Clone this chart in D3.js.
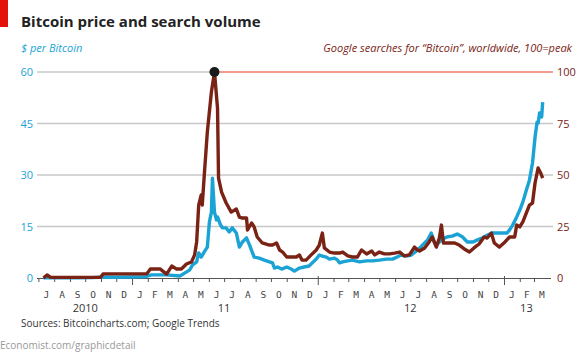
<!DOCTYPE html>
<html>
<head>
<meta charset="utf-8">
<script src="https://cdn.jsdelivr.net/npm/d3@7"></script>
<style>
  html, body { margin: 0; padding: 0; background: #fff; }
  svg { display: block; }
</style>
</head>
<body>
<svg id="chart" width="583" height="357"></svg>
<script>
// ---- Data ----
const priceDates = ["2010-07-11","2010-08-15","2010-09-15","2010-10-15","2010-11-07","2010-12-01","2011-01-01","2011-01-28","2011-02-08","2011-02-25","2011-03-10","2011-04-05","2011-04-15","2011-04-24","2011-04-30","2011-05-08","2011-05-12","2011-05-17","2011-05-23","2011-05-29","2011-06-02","2011-06-06","2011-06-08","2011-06-12","2011-06-16","2011-06-18","2011-06-24","2011-06-28","2011-07-05","2011-07-11","2011-07-17","2011-07-25","2011-07-31","2011-08-06","2011-08-14","2011-08-20","2011-08-29","2011-09-08","2011-09-18","2011-09-28","2011-10-04","2011-10-08","2011-10-14","2011-10-22","2011-11-01","2011-11-10","2011-11-16","2011-11-26","2011-12-05","2011-12-15","2011-12-21","2011-12-29","2012-01-04","2012-01-10","2012-01-18","2012-01-24","2012-02-03","2012-02-09","2012-02-13","2012-02-19","2012-02-29","2012-03-09","2012-03-23","2012-04-06","2012-04-18","2012-05-01","2012-05-15","2012-05-27","2012-06-05","2012-06-13","2012-06-23","2012-07-03","2012-07-13","2012-07-19","2012-07-29","2012-08-04","2012-08-11","2012-08-17","2012-08-21","2012-08-27","2012-09-02","2012-09-12","2012-09-21","2012-10-01","2012-10-11","2012-10-21","2012-11-01","2012-11-10","2012-11-20","2012-11-29","2012-12-09","2012-12-23","2013-01-07","2013-01-12","2013-01-18","2013-01-26","2013-02-01","2013-02-07","2013-02-14","2013-02-20","2013-02-26","2013-03-03","2013-03-07","2013-03-09","2013-03-12","2013-03-16","2013-03-18"];
const priceValues = [0.06,0.07,0.06,0.1,0.3,0.22,0.3,0.4,0.9,0.9,0.9,0.6,1.5,2.3,3.8,4.7,7.3,6.1,7.6,9,16.3,19.2,29.1,19.2,16.9,17.8,15.4,14.6,14.6,13.4,14.6,13.1,9,10.5,11.7,9.6,6.1,5.8,5.2,4.7,4.4,2.9,3.2,2.6,3.2,2.6,2,2.9,3.2,3.5,4.4,5.5,6.7,6.4,6.1,5.5,5.8,5.2,4.4,4.7,5,5.2,4.7,5,5,5.2,5.5,5.5,6.1,6.7,6.4,6.7,7.9,8.7,10.2,11.1,13.1,10.5,9.6,10.5,11.4,12,12.2,12.8,12,10.5,10.5,11.1,11.7,12.5,13.1,13.1,13.1,14,15.4,17.8,19.8,22.1,25.6,28.5,33.5,41,45.4,45.1,48.1,46.9,51.2];

const searchDates = ["2010-07-11","2010-07-18","2010-07-25","2010-10-31","2010-11-05","2011-01-30","2011-02-06","2011-02-25","2011-03-10","2011-03-20","2011-03-29","2011-04-08","2011-04-18","2011-04-28","2011-05-04","2011-05-08","2011-05-12","2011-05-17","2011-05-19","2011-05-23","2011-05-29","2011-06-06","2011-06-12","2011-06-18","2011-06-20","2011-06-26","2011-07-05","2011-07-15","2011-07-25","2011-07-31","2011-08-06","2011-08-14","2011-08-16","2011-08-24","2011-08-29","2011-09-04","2011-09-14","2011-09-28","2011-10-04","2011-10-12","2011-10-18","2011-10-24","2011-11-01","2011-11-10","2011-11-20","2011-11-26","2011-12-01","2011-12-09","2011-12-19","2011-12-29","2012-01-04","2012-01-10","2012-01-14","2012-01-24","2012-02-03","2012-02-13","2012-02-19","2012-02-29","2012-03-09","2012-03-19","2012-03-27","2012-04-06","2012-04-16","2012-04-22","2012-05-01","2012-05-11","2012-05-21","2012-05-31","2012-06-10","2012-06-19","2012-06-29","2012-07-09","2012-07-15","2012-07-19","2012-07-29","2012-08-07","2012-08-13","2012-08-21","2012-08-27","2012-08-31","2012-09-04","2012-09-16","2012-09-26","2012-10-05","2012-10-15","2012-10-25","2012-11-03","2012-11-13","2012-11-23","2012-11-29","2012-12-07","2012-12-13","2012-12-23","2013-01-03","2013-01-12","2013-01-22","2013-01-26","2013-02-01","2013-02-07","2013-02-14","2013-02-20","2013-02-26","2013-03-03","2013-03-09","2013-03-14","2013-03-18"];
const searchValues = [0,1.5,0.3,0.3,2,2,4.4,4.4,1.9,5.8,4.4,4.4,6.8,7.8,11.2,17.5,35.4,40.3,35.4,50,70.9,90.3,100,82.5,48.5,41.7,36.4,32,33.5,29.6,29.1,29.1,23.3,26.7,24.8,19.9,17,16,16,17,13.6,12.6,10.2,10.2,10.2,11.2,8.7,8.7,11.2,13.6,16,21.8,14.6,12.6,12.1,12.1,12.6,10.7,10.2,10.2,13.6,11.7,13.1,11.2,12.6,11.7,11.7,12.1,12.6,10.7,11.2,15,13.6,13.1,14.6,17.5,19.9,15,19.4,25.7,17,17,17,16,14.1,12.6,14.6,16.5,19.9,19.4,21.8,17,15,17.5,19.9,19.9,25.7,24.8,27.2,31.6,35.4,36.4,46.1,53.4,51,48.5];

const leftTicks = [0, 15, 30, 45, 60];
const rightTicks = [0, 25, 50, 75, 100];
const monthLetters = ["J","F","M","A","M","J","J","A","S","O","N","D"];
const yearLabels = ["2010", "11", "12", "13"];
const yearLabelCentres = ["2010-10-01", "2011-07-01", "2012-07-01", "2013-02-14"];
const peakDate = "2011-06-12";

const title = "Bitcoin price and search volume";
const leftTitle = "$ per Bitcoin";
const rightTitle = "Google searches for \u201cBitcoin\u201d, worldwide, 100=peak";
const source = "Sources: Bitcoincharts.com; Google Trends";
const footer = "Economist.com/graphicdetail";

// ---- Drawing ----
const parse = d3.timeParse("%Y-%m-%d");
const svg = d3.select("#chart");
const BLUE = "#1ba3d6", BROWN = "#7a2315", SALMON = "#ef7a66";
const FONT = "'Open Sans', sans-serif";

const x = d3.scaleTime().domain([new Date(2010, 6, 1), new Date(2013, 3, 1)]).range([38.4, 549.8]);
const yL = d3.scaleLinear().domain([0, 60]).range([278, 72]);
const yR = d3.scaleLinear().domain([0, 100]).range([278, 72]);

// red corner mark
svg.append("rect").attr("x", 0).attr("y", 0).attr("width", 8).attr("height", 27).attr("fill", "#e3120b");

svg.append("text").attr("x", 21).attr("y", 27).text(title)
  .attr("font-family", FONT).attr("font-weight", 700).attr("font-size", 15).attr("fill", "#222");

svg.append("text").attr("x", 21).attr("y", 52).text(leftTitle)
  .attr("font-family", FONT).attr("font-style", "italic").attr("font-size", 11).attr("fill", BLUE);
svg.append("text").attr("x", 572).attr("y", 52).attr("text-anchor", "end").text(rightTitle)
  .attr("font-family", FONT).attr("font-style", "italic").attr("font-size", 11).attr("fill", BROWN);

// gridlines
const peakX = x(parse(peakDate));
leftTicks.slice(1).forEach(t => {
  const yy = yL(t);
  if (t === 60) {
    svg.append("line").attr("x1", 37).attr("x2", peakX).attr("y1", yy).attr("y2", yy)
      .attr("stroke", "#c8c8c8").attr("stroke-width", 1.3);
    svg.append("line").attr("x1", peakX).attr("x2", 553).attr("y1", yy).attr("y2", yy)
      .attr("stroke", SALMON).attr("stroke-width", 1.3);
  } else {
    svg.append("line").attr("x1", 37).attr("x2", 553).attr("y1", yy).attr("y2", yy)
      .attr("stroke", "#c8c8c8").attr("stroke-width", 1.3);
  }
});

// left axis labels
svg.append("g").selectAll("text").data(leftTicks).join("text")
  .attr("x", 33).attr("y", d => yL(d) + 4).attr("text-anchor", "end")
  .attr("font-family", FONT).attr("font-size", 11).attr("fill", BLUE).text(d => d);
// right axis labels
svg.append("g").selectAll("text").data(rightTicks).join("text")
  .attr("x", 557).attr("y", d => yR(d) + 4).attr("text-anchor", "start")
  .attr("font-family", FONT).attr("font-size", 11).attr("fill", BROWN).text(d => d);

// x axis
const months = d3.timeMonth.range(new Date(2010, 6, 1), new Date(2013, 3, 1));
const xAxis = d3.axisBottom(x).tickValues(months).tickFormat("").tickSizeOuter(0).tickSize(4);
const gx = svg.append("g").attr("transform", "translate(0,278)").call(xAxis);
gx.select(".domain").attr("d", "M37,0.5H551").attr("stroke", "#555").attr("stroke-width", 1);
gx.selectAll(".tick line").attr("stroke", "#555")
  .attr("y1", d => d.getMonth() === 0 ? -2 : 0)
  .attr("y2", d => d.getMonth() === 0 ? 7 : 4);

// month letters
svg.append("g").selectAll("text").data(months).join("text")
  .attr("x", d => (x(d) + x(d3.timeMonth.offset(d, 1))) / 2)
  .attr("y", 298).attr("text-anchor", "middle")
  .attr("font-family", "'DejaVu Sans Mono', monospace").attr("font-size", 9.5).attr("fill", "#444")
  .text(d => monthLetters[d.getMonth()]);

// year labels
svg.append("g").selectAll("text").data(yearLabels).join("text")
  .attr("x", (d, i) => x(parse(yearLabelCentres[i])))
  .attr("y", 312).attr("text-anchor", "middle")
  .attr("font-family", FONT).attr("font-size", 11).attr("fill", "#333").text(d => d);

// lines
const priceData = priceDates.map((d, i) => ({ date: parse(d), v: priceValues[i] }));
const searchData = searchDates.map((d, i) => ({ date: parse(d), v: searchValues[i] }));

svg.append("path").datum(priceData)
  .attr("d", d3.line().x(d => x(d.date)).y(d => yL(d.v)))
  .attr("fill", "none").attr("stroke", BLUE).attr("stroke-width", 3.4).attr("stroke-linejoin", "round");
svg.append("path").datum(searchData)
  .attr("d", d3.line().x(d => x(d.date)).y(d => yR(d.v)))
  .attr("fill", "none").attr("stroke", BROWN).attr("stroke-width", 3.4).attr("stroke-linejoin", "round");

// peak dot
svg.append("circle").attr("cx", peakX).attr("cy", yR(100)).attr("r", 5).attr("fill", "#1a1a1a");

// sources
svg.append("text").attr("x", 21).attr("y", 327).text(source)
  .attr("font-family", FONT).attr("font-size", 10).attr("fill", "#333");
svg.append("text").attr("x", 0).attr("y", 349).text(footer)
  .attr("font-family", FONT).attr("font-size", 10).attr("fill", "#999");
</script>
</body>
</html>
